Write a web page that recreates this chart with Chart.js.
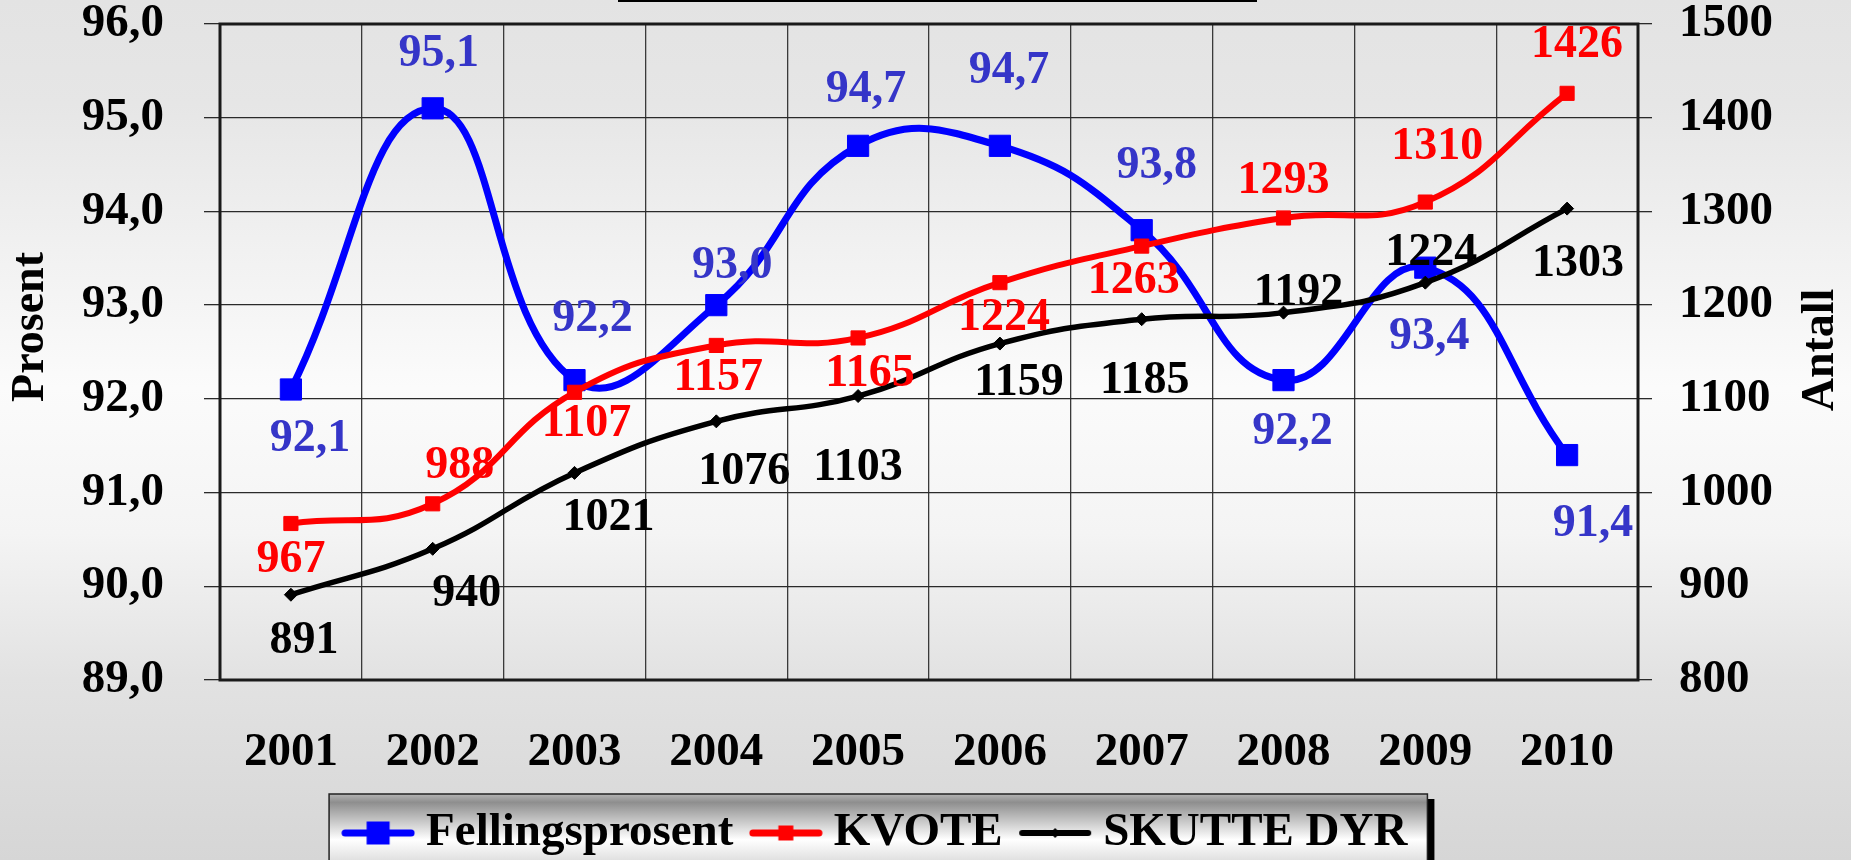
<!DOCTYPE html>
<html>
<head>
<meta charset="utf-8">
<script src="https://cdn.jsdelivr.net/npm/chart.js@4.4.1/dist/chart.umd.min.js"></script>
<style>
  html, body {
    margin: 0;
    padding: 0;
    width: 1851px;
    height: 860px;
    overflow: hidden;
    background: linear-gradient(to bottom, #e3e3e3 0%, #e6e6e6 12%, #fbfbfb 45%, #f4f4f4 62%, #e2e2e2 79%, #d6d6d6 100%);
  }
  #wrap { position: relative; width: 1851px; height: 880px; }
</style>
</head>
<body>
<div id="wrap"><canvas id="myChart" width="1851" height="880"></canvas></div>
<script>
// dados
const years = ['2001', '2002', '2003', '2004', '2005', '2006', '2007', '2008', '2009', '2010'];
const fellingsprosent = [92.1, 95.1, 92.2, 93.0, 94.7, 94.7, 93.8, 92.2, 93.4, 91.4];
const kvote = [967, 988, 1107, 1157, 1165, 1224, 1263, 1293, 1310, 1426];
const skutteDyr = [891, 940, 1021, 1076, 1103, 1159, 1185, 1192, 1224, 1303];
const prosentTicks = [89, 90, 91, 92, 93, 94, 95, 96];
const antallTicks = [800, 900, 1000, 1100, 1200, 1300, 1400, 1500];

// onde cada rótulo fica em relação ao ponto (px)
const labelShift = [
  [[19, 50], [6, -54], [18, -61], [16, -39], [8, -56], [9, -75], [15, -64], [9, 52], [4, 69], [26, 69]],
  [[0, 37], [27, -38], [12, 32], [2, 33], [12, 36], [4, 35], [-8, 35], [0, -37], [12, -55], [10, -48]],
  [[13, 46], [34, 45], [34, 45], [28, 51], [0, 72], [19, 40], [3, 62], [15, -20], [6, -30], [11, 55]],
];
const labelColors = ['#3535c8', '#ff0000', '#000000'];

const FONT = '"Liberation Serif", "Times New Roman", serif';
const bigFont = { family: FONT, size: 47, weight: 'bold', lineHeight: 1 };

const comma = v => v.toFixed(1).replace('.', ',');

// ícones da legenda: linha + marcador
function legendIcon(color, lineW, marker) {
  const c = document.createElement('canvas');
  c.width = 74;
  c.height = 26;
  const g = c.getContext('2d');
  g.strokeStyle = color;
  g.lineWidth = lineW;
  g.lineCap = 'round';
  g.beginPath();
  g.moveTo(4, 13);
  g.lineTo(70, 13);
  g.stroke();
  g.fillStyle = color;
  if (marker === 'diamond') {
    g.beginPath();
    g.moveTo(37, 8); g.lineTo(42, 13); g.lineTo(37, 18); g.lineTo(32, 13);
    g.closePath();
    g.fill();
  } else {
    g.fillRect(37 - marker / 2, 13 - marker / 2, marker, marker);
  }
  return c;
}
const legendIcons = [
  legendIcon('#0000ff', 7, 23),
  legendIcon('#ff0000', 7, 15),
  legendIcon('#000000', 6, 'diamond'),
];

// o padding dos ticks não deve empurrar a área do gráfico para baixo
function fixPadding(s) {
  s.paddingTop = 24;
  s.paddingBottom = 0;
}

const decorPlugin = {
  id: 'decor',
  afterLayout(chart) {
    // legenda um pouco à esquerda, como no original
    if (chart.legend) {
      chart.legend.left -= 45;
      chart.legend.right -= 45;
    }
  },
  beforeDraw(chart) {
    const ctx = chart.ctx;
    ctx.save();
    // linha no topo (resto de uma caixa de título)
    ctx.fillStyle = '#000';
    ctx.fillRect(618, 0, 639, 2);

    // fundo da legenda
    const lg = chart.legend;
    const hb = lg && lg.legendHitBoxes;
    if (hb && hb.length) {
      const first = hb[0];
      const last = hb[hb.length - 1];
      const cy = first.top + first.height / 2;
      const left = first.left - 24.5;
      const right = last.left + last.width + 20;
      const top = cy - 39;
      const bottom = cy + 44;
      ctx.fillStyle = '#000';
      ctx.fillRect(left + 7, top + 5, right - left, bottom - top);
      const grad = ctx.createLinearGradient(0, top, 0, bottom);
      grad.addColorStop(0, '#b4b4b4');
      grad.addColorStop(0.1, '#8e8e8e');
      grad.addColorStop(0.55, '#ffffff');
      grad.addColorStop(0.85, '#dadada');
      grad.addColorStop(1, '#a8a8a8');
      ctx.fillStyle = grad;
      ctx.fillRect(left, top, right - left, bottom - top);
      ctx.strokeStyle = '#222';
      ctx.lineWidth = 1.5;
      ctx.strokeRect(left, top, right - left, bottom - top);
    }

    // títulos dos eixos (os dois lidos de baixo para cima)
    ctx.fillStyle = '#000';
    ctx.font = 'bold 46px ' + FONT;
    ctx.textAlign = 'center';
    ctx.textBaseline = 'middle';
    ctx.translate(31, 327);
    ctx.rotate(-Math.PI / 2);
    ctx.fillText('Prosent', 0, 0);
    ctx.restore();
    ctx.save();
    ctx.fillStyle = '#000';
    ctx.font = 'bold 46px ' + FONT;
    ctx.textAlign = 'center';
    ctx.textBaseline = 'middle';
    ctx.translate(1821, 350);
    ctx.rotate(-Math.PI / 2);
    ctx.fillText('Antall', 0, 0);
    ctx.restore();
  },
  beforeDatasetsDraw(chart) {
    const { ctx, chartArea: a } = chart;
    ctx.save();
    ctx.strokeStyle = '#1a1a1a';
    ctx.lineWidth = 3;
    ctx.strokeRect(a.left, a.top, a.right - a.left, a.bottom - a.top);
    ctx.restore();
  },
  afterDatasetsDraw(chart) {
    const ctx = chart.ctx;
    ctx.save();
    ctx.font = 'bold 46px ' + FONT;
    ctx.textAlign = 'center';
    ctx.textBaseline = 'middle';
    chart.data.datasets.forEach((ds, di) => {
      const meta = chart.getDatasetMeta(di);
      ctx.fillStyle = labelColors[di];
      meta.data.forEach((pt, i) => {
        const v = ds.data[i];
        const txt = di === 0 ? comma(v) : String(v);
        const [dx, dy] = labelShift[di][i];
        ctx.fillText(txt, pt.x + dx, pt.y + dy);
      });
    });
    ctx.restore();
  },
};

const ctx = document.getElementById('myChart');
const myChart = new Chart(ctx, {
  type: 'line',
  data: {
    labels: years,
    datasets: [
      {
        label: 'Fellingsprosent',
        data: fellingsprosent,
        yAxisID: 'y',
        borderColor: '#0000ff',
        backgroundColor: '#0000ff',
        borderWidth: 7,
        pointStyle: 'rect',
        pointRadius: 15,
        pointBorderWidth: 1,
        tension: 0.45,
        order: 2,
      },
      {
        label: 'KVOTE',
        data: kvote,
        yAxisID: 'y1',
        borderColor: '#ff0000',
        backgroundColor: '#ff0000',
        borderWidth: 6,
        pointStyle: 'rect',
        pointRadius: 10,
        pointBorderWidth: 1,
        tension: 0.45,
        order: 1,
      },
      {
        label: 'SKUTTE DYR',
        data: skutteDyr,
        yAxisID: 'y1',
        borderColor: '#000000',
        backgroundColor: '#000000',
        borderWidth: 5.5,
        pointStyle: 'rectRot',
        pointRadius: 6.5,
        pointBorderWidth: 1,
        tension: 0.45,
        order: 0,
      },
    ],
  },
  options: {
    responsive: false,
    animation: false,
    devicePixelRatio: 1,
    events: [],
    layout: { padding: { left: 0, right: 0, top: 0, bottom: 13.5 } },
    scales: {
      x: {
        offset: true,
        grid: { offset: true, color: '#3a3a3a', lineWidth: 1.3, drawTicks: false },
        border: { display: false },
        ticks: { font: bigFont, color: '#000', padding: 49, maxRotation: 0, autoSkip: false },
        afterFit(s) { s.height = 101.5; },
      },
      y: {
        position: 'left',
        min: prosentTicks[0],
        max: prosentTicks[prosentTicks.length - 1],
        ticks: { stepSize: 1, callback: v => comma(v), font: bigFont, color: '#000', padding: 40 },
        grid: { color: '#2a2a2a', lineWidth: 1.3, tickLength: 16 },
        border: { display: false },
        afterFit(s) { s.width = 220; fixPadding(s); },
      },
      y1: {
        position: 'right',
        min: antallTicks[0],
        max: antallTicks[antallTicks.length - 1],
        ticks: { stepSize: 100, callback: v => String(v), font: bigFont, color: '#000', padding: 27 },
        grid: { drawOnChartArea: false, color: '#2a2a2a', lineWidth: 1.3, tickLength: 14 },
        border: { display: false },
        afterFit(s) { s.width = 213; fixPadding(s); },
      },
    },
    plugins: {
      legend: {
        position: 'bottom',
        labels: {
          usePointStyle: true,
          pointStyleWidth: 49,
          padding: 28,
          color: '#000',
          font: bigFont,
          sort: (a, b) => a.datasetIndex - b.datasetIndex,
          generateLabels(chart) {
            const items = Chart.defaults.plugins.legend.labels.generateLabels(chart);
            items.forEach(it => { it.pointStyle = legendIcons[it.datasetIndex]; });
            return items;
          },
        },
      },
      tooltip: { enabled: false },
    },
  },
  plugins: [decorPlugin],
});
</script>
</body>
</html>
